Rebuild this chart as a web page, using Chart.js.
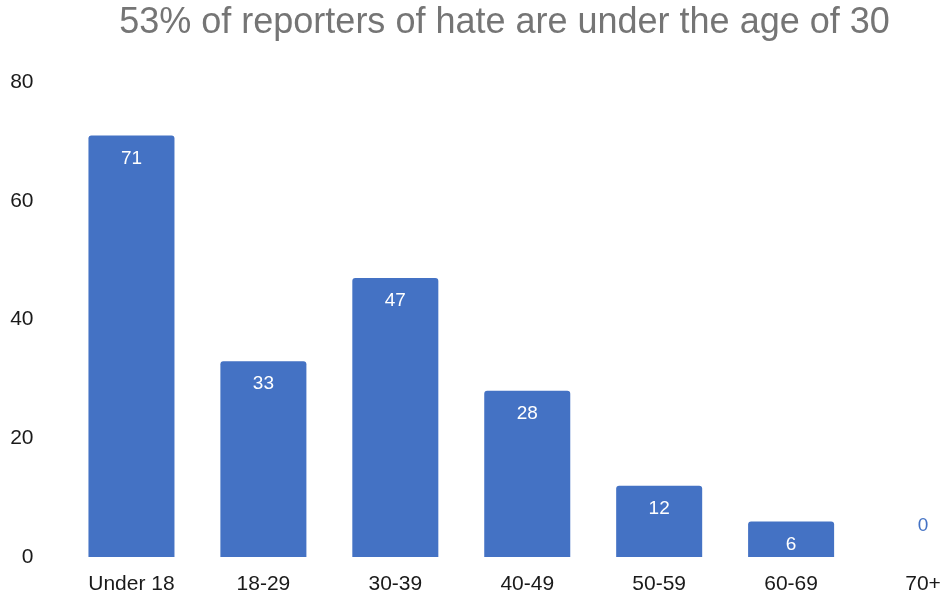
<!DOCTYPE html>
<html>
<head>
<meta charset="utf-8">
<title>Reporters of hate by age</title>
<script src="https://cdn.jsdelivr.net/npm/chart.js@4/dist/chart.umd.min.js"></script>
<style>
  html, body { margin: 0; padding: 0; background: #fff; overflow: hidden; }
  #wrap { position: relative; width: 1009px; height: 598px; }
</style>
</head>
<body>
<div id="wrap"><canvas id="ageChart"></canvas></div>
<script>
const ageGroups = ['Under 18', '18-29', '30-39', '40-49', '50-59', '60-69', '70+'];
const reporterCounts = [71, 33, 47, 28, 12, 6, 0];
const yTicks = [0, 20, 40, 60, 80];

const fontFamily = '"Liberation Sans", Arial, Helvetica, sans-serif';
const barBlue = '#4472c4';

// writes each count near the top of its bar (above it when the bar is too short)
const valueLabels = {
    id: 'valueLabels',
    afterDatasetsDraw(chart) {
        const ctx = chart.ctx;
        const meta = chart.getDatasetMeta(0);
        ctx.save();
        ctx.font = '19px ' + fontFamily;
        ctx.textAlign = 'center';
        ctx.textBaseline = 'middle';
        meta.data.forEach((bar, i) => {
            const value = chart.data.datasets[0].data[i];
            const height = bar.base - bar.y;
            if (height > 30) {
                ctx.fillStyle = '#ffffff';
                ctx.fillText(value, bar.x, bar.y + 23);
            } else {
                ctx.fillStyle = barBlue;
                ctx.fillText(value, bar.x, bar.y - 31);
            }
        });
        ctx.restore();
    }
};

// centre the title on the whole canvas rather than the padded box
const titleShift = {
    id: 'titleShift',
    afterLayout(chart) {
        if (chart.titleBlock) {
            chart.titleBlock.left = 20;
        }
    }
};

const ctx = document.getElementById('ageChart').getContext('2d');
const ageChart = new Chart(ctx, {
    type: 'bar',
    data: {
        labels: ageGroups,
        datasets: [{
            label: 'Reporters',
            data: reporterCounts,
            backgroundColor: barBlue,
            borderWidth: 0,
            borderRadius: 3,
            borderSkipped: 'start',
            categoryPercentage: 1,
            barPercentage: 0.652
        }]
    },
    options: {
        responsive: true,
        maintainAspectRatio: false,
        animation: false,
        layout: {
            padding: { left: 8, right: 20, top: 0, bottom: 0 }
        },
        plugins: {
            legend: { display: false },
            tooltip: { enabled: false },
            title: {
                display: true,
                text: '53% of reporters of hate are under the age of 30',
                color: '#757575',
                font: { family: fontFamily, size: 36, weight: 'normal' },
                padding: { top: 1, bottom: 38 }
            }
        },
        scales: {
            x: {
                grid: { display: false },
                border: { display: false },
                afterFit: scale => { scale.height = 41; },
                ticks: {
                    color: '#1a1a1a',
                    padding: 7,
                    font: { family: fontFamily, size: 21 }
                }
            },
            y: {
                min: 0,
                max: 80,
                afterBuildTicks: scale => {
                    scale.ticks = yTicks.map(v => ({ value: v }));
                },
                afterFit: scale => { scale.width = 57.5; },
                grid: { display: false },
                border: { display: false },
                ticks: {
                    color: '#1a1a1a',
                    padding: 24,
                    font: { family: fontFamily, size: 21 }
                }
            }
        }
    },
    plugins: [valueLabels, titleShift]
});
</script>
</body>
</html>
